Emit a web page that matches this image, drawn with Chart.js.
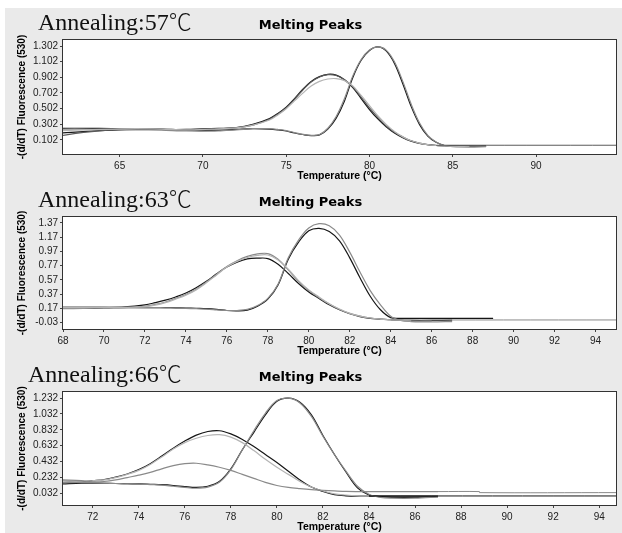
<!DOCTYPE html>
<html><head><meta charset="utf-8">
<script src="https://cdn.jsdelivr.net/npm/chart.js@4.4.0/dist/chart.umd.min.js"></script>
<style>
body{margin:0;width:622px;height:533px;overflow:hidden;background:#fff;position:relative}
#bg{position:absolute;left:5px;top:8px;width:617px;height:525px;background:#eaeaea}
.panel{position:absolute;left:5px;width:617px}
.ann{position:absolute;font-family:"Liberation Serif","Times New Roman",serif;font-size:24px;line-height:24px;color:#111;white-space:nowrap}
.ann .deg{font-family:"Noto Sans CJK SC","Noto Sans CJK JP",serif;font-weight:300;font-size:23px}
</style></head><body>
<div id="bg"></div>
<div class="panel" style="top:8px;height:176px"><canvas id="c1" width="617" height="176"></canvas></div>
<div class="panel" style="top:185px;height:174px"><canvas id="c2" width="617" height="174"></canvas></div>
<div class="panel" style="top:360px;height:175px"><canvas id="c3" width="617" height="175"></canvas></div>
<div class="ann" style="left:38px;top:8px">Annealing:57<span class="deg">℃</span></div>
<div class="ann" style="left:38px;top:185px">Annealing:63<span class="deg">℃</span></div>
<div class="ann" style="left:28px;top:360px">Annealing:66<span class="deg">℃</span></div>
<script>
// ---------- Panel 1 (Annealing 57 °C) ----------
const p1Temps = [61.6, 63, 64.5, 66, 67.5, 69, 70.5, 72, 73, 74, 74.5, 75, 75.5, 76, 76.5, 77, 77.5, 78, 78.5, 79, 79.5, 80, 80.5, 81, 81.5, 82, 82.5, 83, 83.5, 84, 84.5, 85, 86, 87];
const p1A1 = [0.25, 0.25, 0.245, 0.24, 0.235, 0.235, 0.245, 0.26, 0.30, 0.375, 0.44, 0.52, 0.63, 0.75, 0.85, 0.91, 0.94, 0.93, 0.87, 0.77, 0.63, 0.49, 0.37, 0.27, 0.19, 0.13, 0.085, 0.055, 0.04, 0.03, 0.028, 0.026, 0.024, 0.022];
const p1A2 = [0.16, 0.2, 0.23, 0.245, 0.24, 0.23, 0.24, 0.255, 0.29, 0.365, 0.43, 0.51, 0.62, 0.74, 0.84, 0.905, 0.935, 0.925, 0.87, 0.78, 0.65, 0.51, 0.39, 0.28, 0.2, 0.14, 0.09, 0.06, 0.04, 0.03, 0.025, 0.02, 0.018, 0.02];
const p1A3 = [0.22, 0.23, 0.24, 0.245, 0.24, 0.23, 0.24, 0.255, 0.29, 0.355, 0.42, 0.5, 0.6, 0.7, 0.79, 0.85, 0.88, 0.885, 0.86, 0.79, 0.67, 0.54, 0.41, 0.3, 0.21, 0.14, 0.09, 0.06, 0.04, 0.03, 0.025, 0.02, 0.02, null];
const p1B1 = [0.19, 0.21, 0.225, 0.235, 0.235, 0.225, 0.22, 0.235, 0.245, 0.24, 0.23, 0.215, 0.19, 0.17, 0.157, 0.165, 0.24, 0.38, 0.6, 0.9, 1.12, 1.245, 1.29, 1.24, 1.08, 0.82, 0.53, 0.3, 0.15, 0.07, 0.03, 0.02, 0.02, 0.025];
const p1B2 = [0.24, 0.24, 0.235, 0.23, 0.225, 0.215, 0.215, 0.23, 0.245, 0.245, 0.235, 0.22, 0.195, 0.172, 0.16, 0.17, 0.25, 0.4, 0.63, 0.92, 1.13, 1.25, 1.29, 1.25, 1.1, 0.85, 0.56, 0.32, 0.16, 0.075, 0.03, 0.015, 0.01, 0.015];
const p1TailTemps = [84, 94.8];
const p1Tail = [0.033, 0.033];
const p1XTicks = [65, 70, 75, 80, 85, 90];
const p1YTicks = [0.102, 0.302, 0.502, 0.702, 0.902, 1.102, 1.302];
const p1YLabels = ['0.102', '0.302', '0.502', '0.702', '0.902', '1.102', '1.302'];

// ---------- Panel 2 (Annealing 63 °C) ----------
const p2Temps = [68, 69, 70, 71, 72, 72.5, 73, 73.5, 74, 74.5, 75, 75.5, 76, 76.5, 77, 77.5, 78, 78.5, 79, 79.5, 80, 80.5, 81, 81.5, 82, 82.5, 83, 83.5, 84, 84.5, 85, 86, 87, 88, 89];
const p2A1 = [0.17, 0.175, 0.18, 0.19, 0.22, 0.25, 0.285, 0.33, 0.385, 0.46, 0.55, 0.655, 0.75, 0.82, 0.865, 0.875, 0.87, 0.79, 0.66, 0.52, 0.4, 0.31, 0.22, 0.15, 0.095, 0.055, 0.03, 0.02, 0.01, 0.005, 0.0, 0.0, 0.005, null, null];
const p2A2 = [0.165, 0.17, 0.175, 0.18, 0.2, 0.225, 0.26, 0.31, 0.365, 0.44, 0.54, 0.65, 0.76, 0.84, 0.9, 0.935, 0.94, 0.86, 0.71, 0.55, 0.42, 0.32, 0.23, 0.155, 0.1, 0.06, 0.035, 0.02, 0.01, 0.0, -0.01, -0.01, null, null, null];
const p2A3 = [0.18, 0.18, 0.185, 0.185, 0.195, 0.215, 0.25, 0.3, 0.355, 0.43, 0.53, 0.64, 0.75, 0.83, 0.885, 0.915, 0.92, 0.85, 0.72, 0.56, 0.43, 0.33, 0.235, 0.16, 0.1, 0.06, 0.035, 0.02, 0.01, 0.0, -0.005, null, null, null, null];
const p2B1 = [0.17, 0.175, 0.18, 0.18, 0.18, 0.18, 0.18, 0.178, 0.175, 0.17, 0.165, 0.155, 0.14, 0.135, 0.145, 0.2, 0.3, 0.5, 0.86, 1.1, 1.26, 1.295, 1.25, 1.12, 0.88, 0.6, 0.34, 0.15, 0.04, 0.03, 0.03, 0.03, 0.03, 0.03, 0.03];
const p2B2 = [0.19, 0.19, 0.19, 0.185, 0.18, 0.18, 0.178, 0.175, 0.17, 0.165, 0.16, 0.15, 0.14, 0.14, 0.155, 0.21, 0.31, 0.51, 0.88, 1.13, 1.3, 1.36, 1.33, 1.2, 0.96, 0.68, 0.42, 0.22, 0.06, 0.0, -0.015, -0.02, -0.015, null, null];
const p2TailTemps = [84, 95];
const p2Tail = [0.007, 0.007];
const p2XTicks = [68, 70, 72, 74, 76, 78, 80, 82, 84, 86, 88, 90, 92, 94];
const p2YTicks = [-0.03, 0.17, 0.37, 0.57, 0.77, 0.97, 1.17, 1.37];
const p2YLabels = ['-0.03', '0.17', '0.37', '0.57', '0.77', '0.97', '1.17', '1.37'];

// ---------- Panel 3 (Annealing 66 °C) ----------
const p3Temps = [70.7, 71.5, 72, 72.5, 73, 73.5, 74, 74.5, 75, 75.5, 76, 76.5, 77, 77.5, 78, 78.5, 79, 79.5, 80, 80.5, 81, 81.5, 82, 82.5, 83, 83.5, 84, 84.5, 85, 86, 87];
const p3A1 = [0.17, 0.175, 0.19, 0.205, 0.235, 0.275, 0.33, 0.405, 0.5, 0.6, 0.69, 0.765, 0.81, 0.82, 0.78, 0.71, 0.62, 0.52, 0.42, 0.31, 0.2, 0.11, 0.055, 0.015, 0.0, -0.005, -0.005, -0.005, -0.005, -0.005, -0.005];
const p3A2 = [0.19, 0.185, 0.19, 0.2, 0.23, 0.27, 0.32, 0.395, 0.49, 0.59, 0.67, 0.725, 0.76, 0.77, 0.74, 0.67, 0.57, 0.46, 0.36, 0.27, 0.18, 0.11, 0.06, 0.025, 0.01, 0.0, -0.005, null, null, null, null];
const p3A3 = [0.2, 0.19, 0.175, 0.18, 0.2, 0.23, 0.26, 0.295, 0.34, 0.38, 0.405, 0.41, 0.39, 0.36, 0.32, 0.27, 0.22, 0.17, 0.13, 0.105, 0.09, 0.078, 0.07, 0.062, 0.055, 0.053, 0.053, 0.053, 0.053, 0.053, 0.053];
const p3B1 = [0.15, 0.16, 0.16, 0.158, 0.155, 0.152, 0.15, 0.145, 0.14, 0.13, 0.115, 0.105, 0.12, 0.18, 0.34, 0.58, 0.8, 1.02, 1.19, 1.23, 1.18, 1.02, 0.76, 0.52, 0.3, 0.1, 0.01, -0.01, -0.02, -0.02, -0.01];
const p3B2 = [0.165, 0.17, 0.165, 0.16, 0.155, 0.15, 0.148, 0.142, 0.135, 0.12, 0.105, 0.095, 0.11, 0.17, 0.33, 0.58, 0.82, 1.04, 1.2, 1.23, 1.17, 1.0, 0.75, 0.52, 0.31, 0.12, 0.02, -0.02, -0.03, -0.03, -0.015];
const p3TailATemps = [84, 94.73];
const p3TailA = [-0.002, -0.002];
const p3TailBTemps = [87, 88.8, 88.8, 94.73];
const p3TailB = [0.053, 0.053, 0.04, 0.04];
const p3XTicks = [72, 74, 76, 78, 80, 82, 84, 86, 88, 90, 92, 94];
const p3YTicks = [0.032, 0.232, 0.432, 0.632, 0.832, 1.032, 1.232];
const p3YLabels = ['0.032', '0.232', '0.432', '0.632', '0.832', '1.032', '1.232'];

const BLACK = '#151515', DARK = '#5a5a5a', MID = '#8a8a8a', LIGHT = '#b4b4b4';

const framePlugin = {
  id: 'frame',
  beforeDatasetsDraw(chart) {
    const a = chart.chartArea, ctx = chart.ctx;
    ctx.save(); ctx.fillStyle = '#ffffff';
    ctx.fillRect(a.left, a.top, a.right - a.left, a.bottom - a.top);
    ctx.restore();
  },
  afterDraw(chart) {
    const a = chart.chartArea, ctx = chart.ctx;
    ctx.save(); ctx.strokeStyle = '#333'; ctx.lineWidth = 1;
    ctx.strokeRect(Math.round(a.left) - 0.5, Math.round(a.top) - 0.5, Math.round(a.right - a.left) + 1, Math.round(a.bottom - a.top) + 1);
    ctx.restore();
  }
};

function makeChart(id, cfg) {
  const datasets = cfg.series.map(s => ({
    data: s.temps.map((t, i) => ({x: t, y: s.values[i]})),
    borderColor: s.color, borderWidth: s.width || 1.2, pointRadius: 0, fill: false,
    tension: 0.35, spanGaps: false
  }));
  const tickFont = {family: 'Liberation Sans, Arial, sans-serif', size: 10};
  const axisTitleFont = {family: 'Liberation Sans, Arial, sans-serif', size: 10.5, weight: 'bold'};
  return new Chart(document.getElementById(id), {
    type: 'line',
    data: {datasets},
    options: {
      responsive: false, animation: false, events: [],
      layout: {padding: {left: 0, right: 6, top: 0, bottom: 0}},
      plugins: {
        legend: {display: false}, tooltip: {enabled: false},
        title: {display: true, text: 'Melting Peaks', color: '#000',
          font: {family: 'DejaVu Sans, sans-serif', size: 13, weight: 'bold'},
          padding: {top: 9.4, bottom: 7}}
      },
      scales: {
        x: {
          type: 'linear', min: cfg.xMin, max: cfg.xMax,
          afterBuildTicks: s => { s.ticks = cfg.xTicks.map(v => ({value: v})); },
          afterFit: s => { s.height = 30; },
          ticks: {font: tickFont, color: '#222', padding: 3, maxRotation: 0, autoSkip: false,
            callback: v => String(v)},
          grid: {display: true, drawOnChartArea: false, tickLength: 3, color: '#444'},
          border: {display: false},
          title: {display: true, text: 'Temperature (°C)', color: '#000', font: axisTitleFont,
            padding: {top: 0, bottom: 2}}
        },
        y: {
          min: cfg.yMin, max: cfg.yMax,
          afterBuildTicks: s => { s.ticks = cfg.yTicks.map(v => ({value: v})); },
          afterFit: s => { s.width = 58; },
          ticks: {font: tickFont, color: '#222', padding: 2, autoSkip: false,
            callback: (v, i) => cfg.yLabels[i]},
          grid: {display: true, drawOnChartArea: false, tickLength: 3, color: '#444'},
          border: {display: false},
          title: {display: true, text: '-(d/dT) Fluorescence (530)', color: '#000',
            font: {family: 'Liberation Sans, Arial, sans-serif', size: 10, weight: 'bold'},
            padding: {top: 11, bottom: 0}}
        }
      }
    },
    plugins: [framePlugin]
  });
}

makeChart('c1', {
  xMin: 61.6, xMax: 94.8, yMin: -0.079, yMax: 1.379,
  xTicks: p1XTicks, yTicks: p1YTicks, yLabels: p1YLabels,
  series: [
    {temps: p1TailTemps, values: p1Tail, color: DARK, width: 1},
    {temps: p1Temps, values: p1A3, color: LIGHT},
    {temps: p1Temps, values: p1B2, color: MID},
    {temps: p1Temps, values: p1A2, color: DARK},
    {temps: p1Temps, values: p1A1, color: BLACK},
    {temps: p1Temps, values: p1B1, color: BLACK}
  ]
});
makeChart('c2', {
  xMin: 68.0, xMax: 95.0, yMin: -0.12, yMax: 1.454,
  xTicks: p2XTicks, yTicks: p2YTicks, yLabels: p2YLabels,
  series: [
    {temps: p2TailTemps, values: p2Tail, color: MID, width: 1},
    {temps: p2Temps, values: p2A3, color: LIGHT},
    {temps: p2Temps, values: p2A2, color: MID},
    {temps: p2Temps, values: p2B2, color: MID},
    {temps: p2Temps, values: p2A1, color: BLACK},
    {temps: p2Temps, values: p2B1, color: BLACK}
  ]
});
makeChart('c3', {
  xMin: 70.71, xMax: 94.73, yMin: -0.116, yMax: 1.308,
  xTicks: p3XTicks, yTicks: p3YTicks, yLabels: p3YLabels,
  series: [
    {temps: p3TailBTemps, values: p3TailB, color: MID, width: 1},
    {temps: p3TailATemps, values: p3TailA, color: BLACK, width: 1},
    {temps: p3Temps, values: p3A3, color: MID},
    {temps: p3Temps, values: p3A2, color: LIGHT},
    {temps: p3Temps, values: p3B2, color: MID},
    {temps: p3Temps, values: p3A1, color: BLACK},
    {temps: p3Temps, values: p3B1, color: BLACK}
  ]
});
</script>
</body></html>
